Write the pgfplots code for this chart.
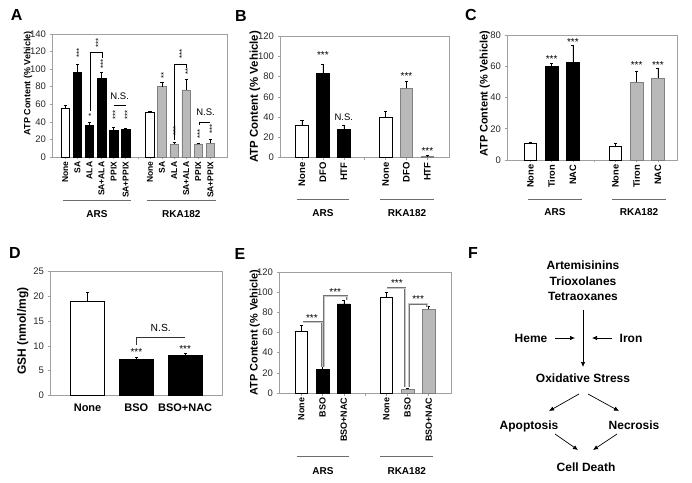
\documentclass[border=0pt]{standalone}
\usepackage{pgfplots}
\pgfplotsset{compat=1.18}
\usepackage{fontspec}
\setmainfont{Liberation Sans}
\usetikzlibrary{arrows.meta}
\definecolor{bargray}{RGB}{185,185,185}
\definecolor{framegray}{RGB}{160,160,160}
\definecolor{txt}{RGB}{40,40,40}
\newcommand{\fsz}[1]{\fontsize{#1}{#1}\selectfont}
\pgfplotsset{
  panel/.style={
    scale only axis, anchor=south west, clip=false,
    axis line style={framegray, line width=0.6pt},
    tick style={framegray, line width=0.5pt},
    tick align=outside, major tick length=2.5pt,
    xtick pos=bottom, ytick pos=left,
    ymin=0, ybar,
    /pgf/number format/assume math mode=true,
    yticklabel style={font=\fsz{9.5}, text=txt},
    xticklabel style={text=black, inner sep=2pt},
    error bars/y dir=plus, error bars/y explicit,
    error bars/error bar style={black, line width=0.5pt},
    error bars/error mark options={rotate=90, mark size=1.6pt, line width=0.5pt, black},
    ylabel style={anchor=center},
  },
  rotlabels/.style={xticklabel style={rotate=90, anchor=east}},
  wbar/.style={ybar, bar shift=0pt, fill=white, draw=black, line width=0.6pt},
  kbar/.style={ybar, bar shift=0pt, fill=black, draw=black, line width=0.6pt},
  gbar/.style={ybar, bar shift=0pt, fill=bargray, draw=gray, line width=0.6pt},
}
\tikzset{
  rs/.style={rotate=90, anchor=west, inner sep=0pt, font=\fsz{7.8}},
  hs/.style={inner sep=0pt, font=\fsz{10}},
  ns/.style={inner sep=0pt, font=\fsz{9.5}, text height=6.8pt, text depth=0pt},
  grp/.style={inner sep=0pt, font=\bfseries\fsz{10}, text height=7.2pt, text depth=0pt},
  fl/.style={inner sep=0pt, font=\bfseries\fsz{12}, text height=8.6pt, text depth=0pt},
  let/.style={inner sep=0pt, font=\bfseries\fsz{16}, text height=11.5pt, text depth=0pt},
  arr/.style={-{Latex[length=5pt,width=4.5pt]}, line width=0.7pt},
  ebr/.style={draw=gray!90!black, double=gray!45, double distance=0.9pt, line width=0.55pt},
}
\begin{document}
\begin{tikzpicture}
\path[use as bounding box] (0pt,0pt) rectangle (692pt,482pt);

% ---------------- Panel A ----------------
\begin{axis}[panel, rotlabels, at={(52pt,325pt)}, width=175.3pt, height=123pt,
  xmin=-1.1, xmax=13.4, ymax=140, ytick={0,20,...,140}, bar width=0.7,
  xtick={0,...,12},
  xticklabels={None,SA,ALA,SA+ALA,PPIX,SA+PPIX,,None,SA,ALA,SA+ALA,PPIX,SA+PPIX},
  xticklabel style={font=\bfseries\fsz{8.5}},
  ylabel={ATP Content (\% Vehicle)},
  ylabel style={at={(axis description cs:-0.137,0.6)}, font=\bfseries\fsz{9}},
]
\addplot[wbar] coordinates {(0,54.9) +- (0,4.1) (7,51) +- (0,0.8)};
\addplot[kbar] coordinates {(1,96.1) +- (0,9.8) (2,35.9) +- (0,4.2) (3,89.7) +- (0,6.4) (4,29.9) +- (0,4.5) (5,31.4) +- (0,1.1)};
\addplot[gbar] coordinates {(8,80.2) +- (0,4.6) (9,14.8) +- (0,1.8) (10,76.4) +- (0,12.5) (11,14.8) +- (0,0.7) (12,15.9) +- (0,4.5)};
\node[rs] at (axis cs:1.14,113) {***};
\node[rs] at (axis cs:2.14,46) {*};
\node[rs] at (axis cs:3.14,100) {***};
\node[rs] at (axis cs:4.14,42.5) {***};
\node[rs] at (axis cs:5.14,42.5) {***};
\node[rs] at (axis cs:2.74,124) {***};
\draw[black, line width=0.6pt] (axis cs:2.08,52) -- (axis cs:2.08,119.2) -- (axis cs:3.1,119.2) -- (axis cs:3.1,112.4);
\draw[black, line width=0.6pt] (axis cs:4,59.4) -- (axis cs:5,59.4);
\node[ns] at (axis cs:4.5,68.8) {N.S.};
\node[rs] at (axis cs:8.14,89) {**};
\node[rs] at (axis cs:9.14,24) {***};
\node[rs] at (axis cs:10.14,93.5) {**};
\node[rs] at (axis cs:11.14,21) {***};
\node[rs] at (axis cs:12.14,26) {***};
\node[rs] at (axis cs:9.64,111.5) {***};
\draw[black, line width=0.6pt] (axis cs:9.05,19.7) -- (axis cs:9.05,105.6) -- (axis cs:10,105.6) -- (axis cs:10,101.8);
\draw[black, line width=0.6pt] (axis cs:11.05,36.5) -- (axis cs:11.05,39.7) -- (axis cs:12,39.7);
\node[ns] at (axis cs:11.6,51) {N.S.};
\end{axis}

% ---------------- Panel B ----------------
\begin{axis}[panel, rotlabels, at={(280pt,324.3pt)}, width=169.3pt, height=121.7pt,
  xmin=-1.05, xmax=7.05, ymax=120, ytick={0,20,...,120}, bar width=0.6,
  xtick={0,...,6}, xticklabels={None,DFO,HTF,,None,DFO,HTF},
  xticklabel style={font=\bfseries\fsz{9.5}},
  ylabel={ATP Content (\% Vehicle)},
  ylabel style={at={(axis description cs:-0.148,0.5)}, font=\bfseries\fsz{11.4}},
]
\addplot[wbar] coordinates {(0,31.6) +- (0,5.4) (4,39.8) +- (0,6.2)};
\addplot[kbar] coordinates {(1,83.2) +- (0,8.8) (2,28) +- (0,4)};
\addplot[gbar] coordinates {(5,68.4) +- (0,7.2) (6,1.3) +- (0,0.7)};
\node[hs] at (axis cs:1,101) {***};
\node[ns] at (axis cs:2,39.8) {N.S.};
\node[hs] at (axis cs:5,80.6) {***};
\node[hs] at (axis cs:6,6.6) {***};
\end{axis}

% ---------------- Panel C ----------------
\begin{axis}[panel, rotlabels, at={(507pt,322pt)}, width=170pt, height=125pt,
  xmin=-1.1, xmax=6.9, ymax=80, ytick={0,20,...,80}, bar width=0.6,
  xtick={0,...,6}, xticklabels={None,Tiron,NAC,,None,Tiron,NAC},
  xticklabel style={font=\bfseries\fsz{9.3}},
  ylabel={ATP Content (\% Vehicle)},
  ylabel style={at={(axis description cs:-0.13,0.53)}, font=\bfseries\fsz{10.9}},
]
\addplot[wbar] coordinates {(0,10.7) +- (0,0.6) (4,8.5) +- (0,2.5)};
\addplot[kbar] coordinates {(1,59.7) +- (0,2.2) (2,62.5) +- (0,10.7)};
\addplot[gbar] coordinates {(5,49.7) +- (0,7.2) (6,52.4) +- (0,6.6)};
\node[hs] at (axis cs:1,64.9) {***};
\node[hs] at (axis cs:2,75.7) {***};
\node[hs] at (axis cs:5,60.7) {***};
\node[hs] at (axis cs:6,60.7) {***};
\end{axis}

% ---------------- Panel D ----------------
\begin{axis}[panel, at={(50pt,86.7pt)}, width=172.7pt, height=123.6pt,
  xmin=-0.77, xmax=2.77, ymax=25, ytick={0,5,...,25}, bar width=0.7,
  xtick={0,1,2}, xticklabels={None,BSO,BSO+NAC},
  xtick style={draw=none},
  xticklabel style={font=\bfseries\fsz{11}, anchor=north, yshift=-4pt},
  ylabel={GSH (nmol/mg)},
  ylabel style={at={(axis description cs:-0.158,0.52)}, font=\bfseries\fsz{12}},
]
\addplot[wbar] coordinates {(0,19.0) +- (0,1.9)};
\addplot[kbar] coordinates {(1,7.2) +- (0,0.5) (2,8.0) +- (0,0.5)};
\node[hs] at (axis cs:1,8.8) {***};
\node[hs] at (axis cs:2,9.4) {***};
\draw[black!80, line width=0.6pt] (axis cs:1,10.2) -- (axis cs:1,11.7) -- (axis cs:2,11.7);
\node[ns, font=\fsz{10.3}] at (axis cs:1.5,13.5) {N.S.};
\end{axis}

% ---------------- Panel E ----------------
\begin{axis}[panel, rotlabels, at={(279pt,89pt)}, width=172pt, height=121pt,
  xmin=-1.05, xmax=7.05, ymax=120, ytick={0,20,...,120}, bar width=0.6,
  xtick={0,...,6}, xticklabels={None,BSO,BSO+NAC,,None,BSO,BSO+NAC},
  xticklabel style={font=\bfseries\fsz{9}},
  ylabel={ATP Content (\% Vehicle)},
  ylabel style={at={(axis description cs:-0.14,0.5)}, font=\bfseries\fsz{10.9}},
]
\addplot[wbar] coordinates {(0,61.5) +- (0,5.5) (4,94.5) +- (0,5.5)};
\addplot[kbar] coordinates {(1,23.5) +- (0,2.9) (2,88.3) +- (0,3.3)};
\addplot[gbar] coordinates {(5,3.6) +- (0,1.0) (6,83) +- (0,3)};
\draw[ebr] (axis cs:0.07,70.4) -- (axis cs:0.99,70.4) -- (axis cs:0.99,26);
\draw[ebr] (axis cs:1.09,26) -- (axis cs:1.09,96) -- (axis cs:2.17,96) -- (axis cs:2.17,92);
\draw[ebr] (axis cs:4.03,104) -- (axis cs:4.89,104) -- (axis cs:4.89,6);
\draw[ebr] (axis cs:5.05,6) -- (axis cs:5.05,88.6) -- (axis cs:5.92,88.6) -- (axis cs:5.92,85.3);
\node[hs] at (axis cs:0.5,74) {***};
\node[hs] at (axis cs:1.6,100.5) {***};
\node[hs] at (axis cs:4.5,109) {***};
\node[hs] at (axis cs:5.5,93) {***};
\end{axis}

% ---------------- group lines and labels ----------------
\begin{scope}[line width=0.8pt, draw=gray!85!black]
\draw (63.3pt,282pt) -- (131pt,282pt);
\draw (146.7pt,282pt) -- (216pt,282pt);
\draw (296.7pt,282.7pt) -- (349.3pt,282.7pt);
\draw (380pt,282.7pt) -- (434pt,282.7pt);
\draw (528pt,282.7pt) -- (581.7pt,282.7pt);
\draw (612pt,282.7pt) -- (665.7pt,282.7pt);
\draw (296.7pt,25.3pt) -- (349.3pt,25.3pt);
\draw (380pt,25.3pt) -- (433.3pt,25.3pt);
\end{scope}
\node[grp] at (97pt,268pt) {ARS};
\node[grp] at (181.3pt,268pt) {RKA182};
\node[grp] at (323pt,269pt) {ARS};
\node[grp] at (407pt,269pt) {RKA182};
\node[grp] at (555pt,269.7pt) {ARS};
\node[grp] at (639pt,269.7pt) {RKA182};
\node[grp] at (323pt,11.3pt) {ARS};
\node[grp] at (406.7pt,11.3pt) {RKA182};

% ---------------- panel letters ----------------
\node[let] at (16.7pt,467pt) {A};
\node[let] at (241pt,466.2pt) {B};
\node[let] at (471pt,467pt) {C};
\node[let] at (15pt,229.5pt) {D};
\node[let] at (240pt,228pt) {E};
\node[let] at (473pt,229.5pt) {F};

% ---------------- Panel F (diagram) ----------------
\node[fl] at (583pt,217pt) {Artemisinins};
\node[fl] at (583pt,201pt) {Trioxolanes};
\node[fl] at (583pt,186pt) {Tetraoxanes};
\draw[arr] (583pt,172pt) -- (583pt,115pt);
\node[fl] at (531pt,144pt) {Heme};
\draw[arr] (555pt,144pt) -- (575pt,144pt);
\node[fl] at (631pt,144pt) {Iron};
\draw[arr] (612pt,144pt) -- (592pt,144pt);
\node[fl] at (583pt,104pt) {Oxidative Stress};
\draw[arr] (579pt,88pt) -- (549pt,71pt);
\draw[arr] (588pt,88pt) -- (619pt,71pt);
\node[fl] at (529pt,57pt) {Apoptosis};
\node[fl] at (634pt,57pt) {Necrosis};
\draw[arr] (555pt,48pt) -- (578pt,32pt);
\draw[arr] (617pt,48pt) -- (593pt,32pt);
\node[fl] at (586pt,15pt) {Cell Death};
\end{tikzpicture}
\end{document}
